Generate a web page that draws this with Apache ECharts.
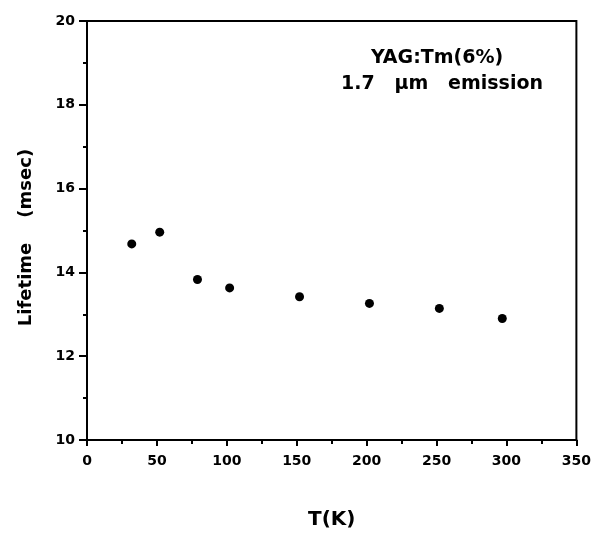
<!DOCTYPE html>
<html>
<head>
<meta charset="utf-8">
<script src="https://cdn.jsdelivr.net/npm/echarts@6/dist/echarts.min.js"></script>
<style>
  html, body { margin: 0; padding: 0; background: #fff; }
  #chart { width: 594px; height: 535px; }
</style>
</head>
<body>
<div id="chart"></div>
<script>
// Lifetime vs temperature, YAG:Tm(6%) 1.7 um emission
var temperatureK = [32, 52, 79, 102, 152, 202, 252, 297];
var lifetimeMs  = [14.68, 14.96, 13.83, 13.63, 13.42, 13.26, 13.14, 12.90];

var points = temperatureK.map(function (t, i) { return [t, lifetimeMs[i]]; });

var chart = echarts.init(document.getElementById('chart'));
var font = '"DejaVu Sans", "Liberation Sans", sans-serif';

function bold(size) {
    return { fontFamily: font, fontWeight: 'bold', fontSize: size, color: '#000' };
}

chart.setOption({
    backgroundColor: '#fff',
    animation: false,
    grid: {
        left: 87, right: 16, top: 21, bottom: 90,
        show: true, borderColor: '#000', borderWidth: 2
    },
    xAxis: {
        type: 'value',
        min: 0, max: 350, interval: 50,
        name: 'T(K)',
        nameLocation: 'middle',
        nameGap: 70,
        nameTextStyle: bold(20),
        axisLine: { lineStyle: { color: '#000', width: 2 } },
        axisTick: { length: 6, lineStyle: { color: '#000', width: 2 } },
        minorTick: { show: true, splitNumber: 2, length: 4, lineStyle: { color: '#000', width: 2 } },
        axisLabel: Object.assign(bold(14), { margin: 14 }),
        splitLine: { show: false }
    },
    yAxis: {
        type: 'value',
        min: 10, max: 20, interval: 2,
        name: 'Lifetime    (msec)',
        nameLocation: 'middle',
        nameGap: 52,
        nameRotate: 90,
        nameTextStyle: Object.assign(bold(18), { padding: [0, 14, 0, 0] }),
        axisLine: { lineStyle: { color: '#000', width: 2 } },
        axisTick: { length: 8, lineStyle: { color: '#000', width: 2 } },
        minorTick: { show: true, splitNumber: 2, length: 4, lineStyle: { color: '#000', width: 2 } },
        axisLabel: Object.assign(bold(14), { margin: 12 }),
        splitLine: { show: false }
    },
    graphic: [{
        type: 'text',
        x: 437, y: 58,
        style: {
            text: 'YAG:Tm(6%)',
            textAlign: 'center', textVerticalAlign: 'middle',
            fontFamily: font, fontWeight: 'bold', fontSize: 19, fill: '#000'
        }
    }, {
        type: 'text',
        x: 442, y: 84,
        style: {
            text: '1.7   µm   emission',
            textAlign: 'center', textVerticalAlign: 'middle',
            fontFamily: font, fontWeight: 'bold', fontSize: 19, fill: '#000'
        }
    }],
    series: [{
        type: 'scatter',
        data: points,
        symbol: 'circle',
        symbolSize: 9,
        itemStyle: { color: '#000', opacity: 1 }
    }]
});
</script>
</body>
</html>
